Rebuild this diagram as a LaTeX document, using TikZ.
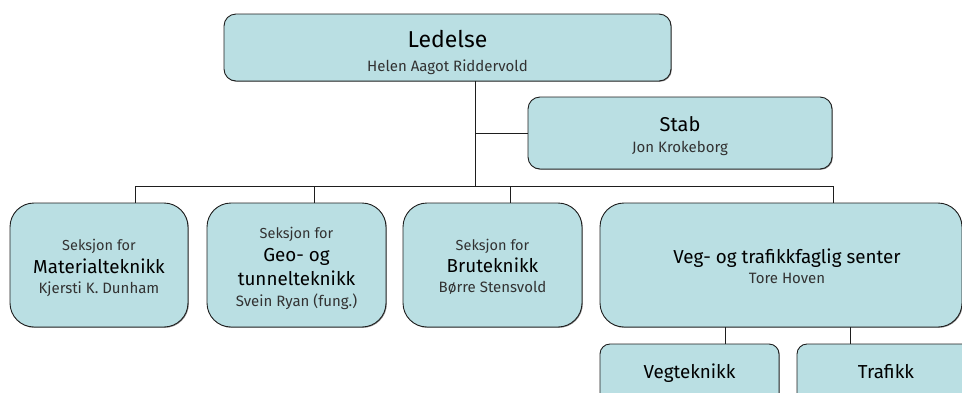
\documentclass[tikz,border=0pt]{standalone}
\usepackage{fontspec}
\setmainfont{Fira Sans}
\usetikzlibrary{shadows}
\definecolor{boxfill}{RGB}{186,223,227}
\definecolor{edge}{RGB}{30,30,30}
\definecolor{subgrey}{RGB}{50,50,50}
\begin{document}
\begin{tikzpicture}[x=1pt,y=-1pt,
  box/.style={draw=edge, line width=0.9pt, fill=boxfill, inner sep=0pt,
    drop shadow={shadow xshift=0.8pt, shadow yshift=-0.8pt, opacity=0.45, fill=black}},
  conn/.style={draw=edge, line width=0.9pt},
  big/.style={anchor=base, text=black, font=\fontsize{23}{23}\selectfont},
  mid/.style={anchor=base, text=black, font=\fontsize{20}{20}\selectfont},
  ttl/.style={anchor=base, text=black, font=\fontsize{18.8}{18.8}\selectfont},
  sub/.style={anchor=base, text=subgrey, font=\fontsize{15}{15}\selectfont},
  seks/.style={anchor=base, text=subgrey, font=\fontsize{14.5}{14.5}\selectfont}]
\useasboundingbox (0,0) rectangle (962,392);
\begin{scope}
\clip (0,0) rectangle (962,392);
% boxes
\node[box, rounded corners=12pt, minimum width=447pt, minimum height=67pt] (ledelse) at (447.5,47.5) {};
\node[box, rounded corners=12pt, minimum width=304pt, minimum height=72pt] (stab) at (680,133) {};
\node[box, rounded corners=24pt, minimum width=178pt, minimum height=124pt] (mat) at (99,265) {};
\node[box, rounded corners=24pt, minimum width=179pt, minimum height=124pt] (geo) at (296.5,265) {};
\node[box, rounded corners=24pt, minimum width=179pt, minimum height=124pt] (brute) at (492.5,265) {};
\node[box, rounded corners=24pt, minimum width=362pt, minimum height=124pt] (veg) at (781,265) {};
\node[box, rounded corners=10pt, minimum width=179pt, minimum height=70pt] (vegtek) at (689.5,379) {};
\node[box, rounded corners=10pt, minimum width=178pt, minimum height=70pt] (trafikk) at (886,379) {};
\end{scope}
% texts
\node[big] (ledelseT) at (447.5,47.7) {Ledelse};
\node[sub] (ledelseS) at (447.5,71) {Helen Aagot Riddervold};
\node[mid] (stabT) at (680,131.7) {Stab};
\node[sub] (stabS) at (680,152.7) {Jon Krokeborg};
\node[seks] (matA) at (99,250) {Seksjon for};
\node[ttl] (matT) at (99,273.3) {Materialteknikk};
\node[sub] (matS) at (99,293.3) {Kjersti K. Dunham};
\node[seks] (geoA) at (296.5,238.3) {Seksjon for};
\node[ttl] (geoT1) at (296.5,261.7) {Geo- og};
\node[ttl] (geoT2) at (296.5,285) {tunnelteknikk};
\node[sub] (geoS) at (296.5,306.7) {Svein Ryan (fung.)};
\node[seks] (bruteA) at (492.5,250) {Seksjon for};
\node[ttl] (bruteT) at (492.5,272.7) {Bruteknikk};
\node[sub] (bruteS) at (492.5,292.7) {Børre Stensvold};
\node[ttl] (vegT) at (787,263.3) {Veg- og trafikkfaglig senter};
\node[sub] (vegS) at (787,283.3) {Tore Hoven};
\node[ttl] (vegtekT) at (689.5,378) {Vegteknikk};
\node[ttl] (trafikkT) at (886,378) {Trafikk};
% connector helpers
\coordinate (bus) at (0,186);
\coordinate (trunk) at (475,0);
\coordinate (xm) at (135,0);
\coordinate (xg) at (314,0);
\coordinate (xb) at (510,0);
\coordinate (xv) at (833,0);
\coordinate (xvt) at (725,0);
\coordinate (xtr) at (850,0);
% connectors
\draw[conn] (trunk |- ledelse.south) -- (trunk |- bus);
\draw[conn] (trunk |- stab.west) -- (stab.west);
\draw[conn] (xm |- bus) -- (xv |- bus);
\draw[conn] (xm |- bus) -- (xm |- mat.north);
\draw[conn] (xg |- bus) -- (xg |- geo.north);
\draw[conn] (xb |- bus) -- (xb |- brute.north);
\draw[conn] (xv |- bus) -- (xv |- veg.north);
\draw[conn] (xvt |- veg.south) -- (xvt |- vegtek.north);
\draw[conn] (xtr |- veg.south) -- (xtr |- trafikk.north);
\end{tikzpicture}
\end{document}
